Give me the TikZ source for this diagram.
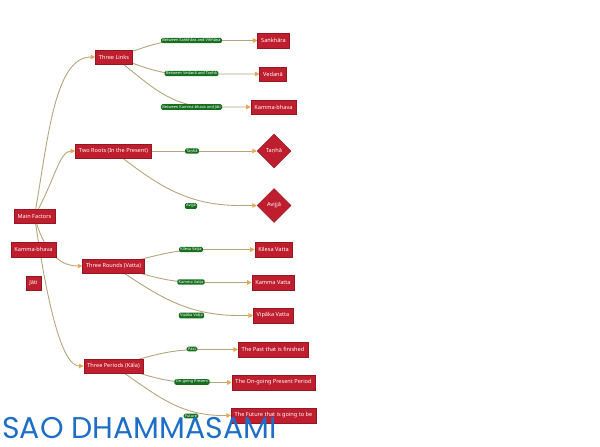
\documentclass[tikz,border=0pt]{standalone}
\usepackage{fontspec}
\setmainfont{Noto Sans}
\newfontfamily\signfont{Poppins}
\usetikzlibrary{arrows.meta, shapes.geometric, backgrounds}

\begin{document}
\begin{tikzpicture}[x=1pt, y=-1pt,
  topic/.style={draw=redEdge, fill=redBase, text=white, line width=0.5pt,
    font=\fontsize{5.6}{6.5}\selectfont, inner xsep=3.5pt, inner ysep=0pt,
    minimum height=14.5pt},
  root/.style={topic, diamond, minimum width=34pt, minimum height=34pt,
    inner sep=0pt, aspect=1},
  tag/.style={fill=tagGreen, text=white, rounded corners=1.5pt,
    inner xsep=1.4pt, inner ysep=0.9pt, font=\fontsize{3.9}{4.5}\selectfont},
  link/.style={draw=linkTan, line width=0.9pt,
    -{Triangle[length=4.5pt, width=4.5pt, color=tipOrange]}}
]
  % ==========================================
  % 1. COLORS & CANVAS
  % ==========================================
  \definecolor{redBase}{RGB}{190, 30, 45}
  \definecolor{redEdge}{RGB}{150, 22, 34}
  \definecolor{tagGreen}{RGB}{22, 110, 30}
  \definecolor{linkTan}{RGB}{180, 165, 125}
  \definecolor{tipOrange}{RGB}{228, 168, 82}
  \definecolor{signBlue}{RGB}{30, 110, 200}

  \useasboundingbox (0,0) rectangle (600,447);

  % ==========================================
  % 2. LEFT COLUMN
  % ==========================================
  \node[topic] (mainF)  at (34.5,216)   {Main Factors};
  \node[topic] (kbLeft) at (33.5,249.5) {Kamma-bhava};
  \node[topic] (jati)   at (33.5,283)   {Jāti};

  % ==========================================
  % 3. BRANCHES
  % ==========================================
  \node[topic] (links)   at (114,57)    {Three Links};
  \node[topic] (roots)   at (113.5,151) {Two Roots (In the Present)};
  \node[topic] (rounds)  at (113.5,266) {Three Rounds (Vatta)};
  \node[topic] (periods) at (113.5,366) {Three Periods (Kāla)};

  % ==========================================
  % 4. LEAVES
  % ==========================================
  \node[topic] (sankhara) at (273.5,40.5)  {Saṅkhāra};
  \node[topic] (vedana)   at (273,74)      {Vedanā};
  \node[topic] (kbhava)   at (273.5,107)   {Kamma-bhava};
  \node[root]  (tanha)    at (274,151)     {Taṇhā};
  \node[root]  (avijja)   at (274,205.5)   {Avijjā};
  \node[topic] (kilesa)   at (273.5,249.5) {Kilesa Vatta};
  \node[topic] (kammaV)   at (273,282.5)   {Kamma Vatta};
  \node[topic] (vipaka)   at (273,315.5)   {Vipāka Vatta};
  \node[topic] (past)     at (273,349.5)   {The Past that is finished};
  \node[topic] (present)  at (273.5,382.5) {The On-going Present Period};
  \node[topic] (future)   at (273.5,415.5) {The Future that is going to be};

  % ==========================================
  % 5. EDGE TAGS
  % ==========================================
  \node[tag] (tagSV) at (191.5,40.5)  {Between Saṅkhāra and Viññāṇa};
  \node[tag] (tagVT) at (191.5,73.5)  {Between Vedanā and Taṇhā};
  \node[tag] (tagKJ) at (191.5,107)   {Between Kamma-bhava and Jāti};
  \node[tag] (tagT)  at (192,151)     {Taṇhā};
  \node[tag] (tagA)  at (191,206)     {Avijjā};
  \node[tag] (tagKi) at (191,249.5)   {Kilesa Vaṭṭa};
  \node[tag] (tagKa) at (191,282)     {Kamma Vaṭṭa};
  \node[tag] (tagVi) at (191.5,315.5) {Vipāka Vaṭṭa};
  \node[tag] (tagPa) at (192,349)     {Past};
  \node[tag] (tagOn) at (192,382)     {On-going Present};
  \node[tag] (tagFu) at (191,416)     {Future};

  % ==========================================
  % 6. CONNECTORS (behind the boxes)
  % ==========================================
  \begin{scope}[on background layer]
    % from the main node
    \draw[link] (mainF.center) .. controls +(13.5,-76) and +(-41,0) .. (links.west);
    \draw[link] (mainF.center) .. controls +(20.5,-36) and +(-16,0) .. (roots.west);
    \draw[link] (mainF.center) .. controls +(7.5,29) and +(-27,0) .. (rounds.west);
    \draw[link] (mainF.center) .. controls +(13.5,94) and +(-21,0) .. (periods.west);

    % three links
    \draw[link] (links.center) to[out=15, in=180] ([xshift=-74pt]sankhara.west) -- (sankhara.west);
    \draw[link] (links.center) to[out=-17, in=180] ([xshift=-76pt]vedana.west) -- (vedana.west);
    \draw[link] (links.center) to[out=-37, in=180] ([xshift=-40pt]kbhava.west) -- (kbhava.west);

    % two roots
    \draw[link] (roots) -- (tanha);
    \draw[link] (roots.center) to[out=-38, in=180] ([xshift=-17pt]avijja.west) -- (avijja.west);

    % three rounds
    \draw[link] (rounds.center) to[out=12, in=180] ([xshift=-50pt]kilesa.west) -- (kilesa.west);
    \draw[link] (rounds.center) to[out=-14, in=180] ([xshift=-53pt]kammaV.west) -- (kammaV.west);
    \draw[link] (rounds.center) to[out=-34, in=180] ([xshift=-14pt]vipaka.west) -- (vipaka.west);

    % three periods
    \draw[link] (periods.center) to[out=14, in=180] ([xshift=-38pt]past.west) -- (past.west);
    \draw[link] (periods.center) to[out=-14, in=180] ([xshift=-38pt]present.west) -- (present.west);
    \draw[link] (periods.center) to[out=-33, in=180] ([xshift=-8pt]future.west) -- (future.west);
  \end{scope}

  % ==========================================
  % 7. SIGNATURE
  % ==========================================
  \node[anchor=base west, inner sep=0pt, text=signBlue,
    font=\signfont\fontsize{30}{32}\selectfont] (sign) at (2,438) {SAO DHAMMASAMI};
\end{tikzpicture}
\end{document}
